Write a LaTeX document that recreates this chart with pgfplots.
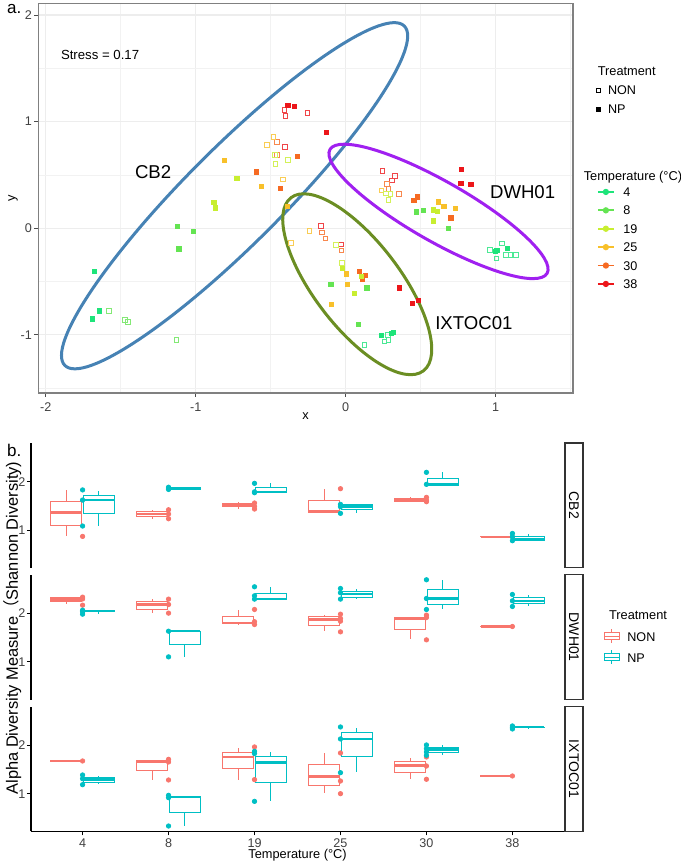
\documentclass[border=0pt]{standalone}
\usepackage{pgfplots}
\pgfplotsset{compat=1.18}
\usepgfplotslibrary{statistics}
\usepackage{fontspec}
\setmainfont{Liberation Sans}
\newfontfamily\cjk{Noto Sans CJK SC}
\definecolor{tA}{RGB}{30,228,122}
\definecolor{tB}{RGB}{100,228,82}
\definecolor{tC}{RGB}{200,238,48}
\definecolor{tD}{RGB}{248,192,42}
\definecolor{tE}{RGB}{246,106,34}
\definecolor{tF}{RGB}{236,22,26}
\definecolor{cbcol}{RGB}{70,130,180}
\definecolor{dwcol}{RGB}{160,32,240}
\definecolor{ixcol}{RGB}{107,142,35}
\definecolor{nonc}{RGB}{248,118,109}
\definecolor{npc}{RGB}{0,191,196}
\newcommand{\fs}[1]{\fontsize{#1}{#1}\selectfont}
\newcommand{\bx}[7]{\addplot[boxplot prepared={draw direction=y, draw position=#1, lower whisker=#2, lower quartile=#3, median=#4, upper quartile=#5, upper whisker=#6, box extend=0.36, whisker extend=0}, draw=#7, fill=white, line width=0.5pt] coordinates {};}
\pgfplotsset{
  boxplot/draw direction=y,
  boxplot/every median/.style={line width=1.2pt},
  facet/.style={at={(15.5pt,#1)}, anchor=south west, scale only axis, width=266.5pt, height=62.4pt,
    xmin=-0.6, xmax=5.6, ymin=0.22, ymax=2.80, ytick={1,2}, yticklabels={1,2},
    axis y line*=left, tick align=outside, major tick length=2pt,
    tick style={black, line width=0.45pt}, axis line style={black, line width=0.55pt, -},
    tick label style={font=\fs{6.3}, text=black!75},
    yticklabel style={inner sep=0.6pt},
    xticklabel style={yshift=2pt},
    /pgf/number format/assume math mode=true},
  pts/.style={only marks, mark=*, mark size=1.1pt},
  sqf/.style={only marks, mark=square*, mark size=1.05pt, color=#1},
  sqo/.style={only marks, mark=square, mark size=1.15pt, mark options={line width=0.45pt}, color=#1!80!white},
}
\begin{document}
\begin{tikzpicture}
\useasboundingbox (0pt,0pt) rectangle (340pt,433pt);
% ---------------- panel a ----------------
\begin{axis}[
  at={(19.15pt,236.5pt)}, anchor=south west, scale only axis,
  width=267.35pt, height=194.85pt,
  xmin=-2.05, xmax=1.516, ymin=-1.545, ymax=2.11,
  xtick={-2,-1,0,1}, ytick={-1,0,1,2},
  minor xtick={-1.5,-0.5,0.5,1.5}, minor ytick={-1.5,-0.5,0.5,1.5},
  grid=both,
  major grid style={gray!14, line width=0.55pt},
  minor grid style={gray!10, line width=0.3pt},
  axis line style={gray, line width=0.55pt},
  tick align=outside, major tick length=2pt, minor tick length=0pt,
  tick style={gray!60!black, line width=0.4pt}, tick pos=left,
  tick label style={font=\fs{6.3}, text=black!75},
  yticklabel style={inner sep=1pt},
  xticklabel style={yshift=0.8pt},
  /pgf/number format/assume math mode=true,
  xlabel={x}, ylabel={y},
  xlabel style={at={(axis description cs:0.5,0)}, anchor=center, yshift=-11.5pt, font=\fs{6.4}},
  ylabel style={at={(axis description cs:0,0.5)}, anchor=center, yshift=12.6pt, font=\fs{6.4}},
]
\addplot[sqo=tF] coordinates {(-0.409,1.11) (-0.402,1.053) (-0.255,1.079) (-0.406,0.765) (-0.164,0.022) (-0.031,-0.15) (0.246,0.54) (0.328,0.49) (0.307,0.45)};
\addplot[sqo=tE] coordinates {(-0.46,0.807) (-0.46,0.69) (-0.157,-0.04) (-0.135,-0.094) (-0.029,-0.21) (0.275,0.416) (0.284,0.369) (0.357,0.322)};
\addplot[sqo=tD] coordinates {(-0.482,0.854) (-0.526,0.781) (-0.417,0.459) (-0.243,-0.025) (-0.366,-0.135) (0.238,0.356)};
\addplot[sqo=tC] coordinates {(-0.469,0.603) (-0.386,0.64) (-0.47,0.69) (-0.066,-0.154) (-0.024,-0.328) (0.27,0.328) (0.299,0.322) (0.284,0.266)};
\addplot[sqo=tB] coordinates {(-1.58,-0.775) (-1.472,-0.86) (-1.452,-0.88) (-1.13,-1.047)};
\addplot[sqo=tA] coordinates {(0.281,-1.003) (0.258,-1.06) (0.284,-1.047) (0.125,-1.097) (0.962,-0.203) (1.043,-0.144) (1.006,-0.284) (1.07,-0.253) (1.10,-0.253) (1.136,-0.253)};
\addplot[sqf=tF] coordinates {(-0.386,1.15) (-0.344,1.141) (-0.128,0.897) (0.358,-0.56) (0.445,-0.704) (0.483,-0.673) (0.771,0.55) (0.768,0.42) (0.835,0.413)};
\addplot[sqf=tE] coordinates {(-0.32,0.675) (-0.597,0.528) (-0.435,0.375) (0.091,-0.407) (0.131,-0.444) (0.109,-0.478) (0.455,0.26) (0.478,0.294) (0.701,0.097)};
\addplot[sqf=tD] coordinates {(-0.81,0.634) (-0.564,0.39) (-0.389,0.203) (0.007,-0.429) (0.011,-0.525) (-0.095,-0.716) (0.617,0.247) (0.655,0.206) (0.73,0.188)};
\addplot[sqf=tC] coordinates {(-0.726,0.469) (-0.879,0.244) (-0.871,0.19) (-0.022,-0.379) (0.056,-0.61) (0.105,-0.454) (0.583,0.172) (0.614,0.156) (0.583,0.069)};
\addplot[sqf=tB] coordinates {(-1.125,0.016) (-1.014,-0.031) (-1.113,-0.194) (-0.099,-0.525) (0.141,-0.56) (0.083,-0.904) (0.47,0.153) (0.516,0.166) (0.687,0.0)};
\addplot[sqf=tA] coordinates {(-1.678,-0.406) (-1.64,-0.775) (-1.69,-0.85) (0.236,-1.004) (0.307,-0.985) (0.316,-0.975) (1.0,-0.219) (1.009,-0.21) (1.078,-0.19)};
\draw[cbcol, line width=1.5pt, rotate around={45:(axis cs:-0.741,0.305)}] (axis cs:-0.741,0.305) ellipse [x radius=120pt, y radius=24pt];
\draw[dwcol, line width=1.5pt, rotate around={-29.7:(axis cs:0.619,0.158)}] (axis cs:0.619,0.158) ellipse [x radius=62.5pt, y radius=15pt];
\draw[ixcol, line width=1.5pt, rotate around={-52.6:(axis cs:0.077,-0.525)}] (axis cs:0.077,-0.525) ellipse [x radius=54.5pt, y radius=21.5pt];
\node[font=\fs{9.3}] at (axis cs:-1.284,0.531) {CB2};
\node[font=\fs{9.3}] at (axis cs:1.18,0.343) {DWH01};
\node[font=\fs{9.3}] at (axis cs:0.855,-0.886) {IXTOC01};
\node[font=\fs{6.6}] at (axis cs:-1.638,1.626) {Stress = 0.17};
\end{axis}
% legends of panel a
\begin{axis}[at={(0pt,0pt)}, anchor=south west, scale only axis, width=340pt, height=433pt,
  xmin=0, xmax=1, ymin=0, ymax=1, hide axis,
  legend style={at={(0.8765,0.9025)}, anchor=north west, draw=none, fill=none, inner sep=0pt, outer sep=0pt,
    row sep=3.9pt, column sep=3.5pt, font=\fs{6.3}, nodes={inner sep=0.5pt, text height=4.6pt, text depth=0pt}},
  legend cell align=left,
  legend image code/.code={\draw[mark repeat=2,mark phase=2,#1] plot coordinates {(0pt,0pt) (3pt,0pt) (6pt,0pt)};}]
\addlegendimage{only marks, mark=square, mark size=1pt, black, mark options={line width=0.4pt}}
\addlegendentry{NON}
\addlegendimage{only marks, mark=square*, mark size=1pt, black}
\addlegendentry{NP}
\end{axis}
\begin{axis}[at={(0pt,0pt)}, anchor=south west, scale only axis, width=340pt, height=433pt,
  xmin=0, xmax=1, ymin=0, ymax=1, hide axis,
  legend style={at={(0.8779,0.7848)}, anchor=north west, draw=none, fill=none, inner sep=0pt, outer sep=0pt,
    row sep=3.6pt, column sep=3.8pt, font=\fs{6.3}, nodes={inner sep=0.5pt, text height=4.6pt, text depth=0pt}},
  legend cell align=left,
  legend image code/.code={\draw[mark repeat=2,mark phase=2,#1] plot coordinates {(0pt,0pt) (4pt,0pt) (8pt,0pt)};}]
\addlegendimage{tA, mark=*, mark size=1.1pt, line width=0.9pt}\addlegendentry{4}
\addlegendimage{tB, mark=*, mark size=1.1pt, line width=0.9pt}\addlegendentry{8}
\addlegendimage{tC, mark=*, mark size=1.1pt, line width=0.9pt}\addlegendentry{19}
\addlegendimage{tD, mark=*, mark size=1.1pt, line width=0.9pt}\addlegendentry{25}
\addlegendimage{tE, mark=*, mark size=1.1pt, line width=0.9pt}\addlegendentry{30}
\addlegendimage{tF, mark=*, mark size=1.1pt, line width=0.9pt}\addlegendentry{38}
\end{axis}
\node[anchor=west, font=\fs{6.4}] at (295.35pt,397.5pt) {Treatment};
\node[anchor=west, font=\fs{6.4}] at (288.35pt,344.5pt) {Temperature (°C)};
\node[anchor=west, font=\fs{8.5}] at (0pt,428.5pt) {a.};
\node[anchor=west, font=\fs{8.5}] at (0pt,208pt) {b.};
% ---------------- panel b: CB2 ----------------
\begin{axis}[facet=149.1pt, axis x line=none, xtick=\empty]
\bx{-0.1875}{0.876}{1.103}{1.359}{1.60}{1.828}{nonc}
\bx{0.1875}{1.083}{1.345}{1.621}{1.717}{1.814}{npc}
\bx{0.8125}{1.234}{1.276}{1.331}{1.393}{1.42}{nonc}
\bx{1.1875}{1.84}{1.848}{1.862}{1.876}{1.886}{npc}
\bx{1.8125}{1.434}{1.483}{1.517}{1.559}{1.572}{nonc}
\bx{2.1875}{1.772}{1.779}{1.793}{1.883}{1.966}{npc}
\bx{2.8125}{1.372}{1.372}{1.386}{1.614}{1.848}{nonc}
\bx{3.1875}{1.345}{1.428}{1.483}{1.531}{1.545}{npc}
\bx{3.8125}{1.586}{1.60}{1.628}{1.648}{1.676}{nonc}
\bx{4.1875}{1.931}{1.931}{1.945}{2.069}{2.193}{npc}
\bx{4.8125}{0.855}{0.858}{0.862}{0.866}{0.87}{nonc}
\bx{5.1875}{0.78}{0.793}{0.821}{0.869}{0.917}{npc}
\addplot[pts, nonc] coordinates {(0,0.869) (1,1.42) (1,1.234) (1,1.33) (2,1.559) (2,1.49) (2,1.434) (3,1.855) (4,1.676) (4,1.62) (4,1.586) (5,0.862)};
\addplot[pts, npc] coordinates {(0,1.83) (0,1.62) (0,1.083) (1,1.886) (1,1.84) (1,1.86) (2,1.966) (2,1.79) (2,1.772) (3,1.531) (3,1.483) (3,1.345) (4,2.193) (4,1.945) (5,0.93) (5,0.86) (5,0.78)};
\end{axis}
\draw[black!80, line width=0.6pt, fill=white] (282.5pt,149.1pt) rectangle (291.5pt,211.5pt);
\node[rotate=-90, font=\fs{7}] at (287pt,180.3pt) {CB2};
% ---------------- DWH01 ----------------
\begin{axis}[facet=83.2pt, axis x line=none, xtick=\empty]
\bx{-0.1875}{2.186}{2.241}{2.29}{2.338}{2.345}{nonc}
\bx{0.1875}{1.986}{2.034}{2.048}{2.062}{2.069}{npc}
\bx{0.8125}{2.007}{2.09}{2.186}{2.241}{2.297}{nonc}
\bx{1.1875}{1.103}{1.366}{1.634}{1.634}{1.634}{npc}
\bx{1.8125}{1.772}{1.793}{1.807}{1.945}{2.069}{nonc}
\bx{2.1875}{2.283}{2.283}{2.297}{2.421}{2.552}{npc}
\bx{2.8125}{1.634}{1.745}{1.876}{1.931}{1.966}{nonc}
\bx{3.1875}{2.297}{2.338}{2.4}{2.455}{2.503}{npc}
\bx{3.8125}{1.469}{1.676}{1.897}{1.917}{1.93}{nonc}
\bx{4.1875}{2.083}{2.186}{2.31}{2.503}{2.69}{npc}
\bx{4.8125}{1.724}{1.728}{1.731}{1.734}{1.738}{nonc}
\bx{5.1875}{2.159}{2.2}{2.262}{2.331}{2.379}{npc}
\addplot[pts, nonc] coordinates {(0,2.338) (0,2.172) (0,2.3) (1,2.297) (1,2.186) (1,2.007) (2,2.083) (2,1.83) (2,1.772) (3,1.986) (3,1.897) (3,1.841) (3,1.62) (4,1.966) (4,1.917) (4,1.455) (5,1.731)};
\addplot[pts, npc] coordinates {(0,2.069) (0,2.034) (0,1.986) (1,1.634) (1,1.103) (2,2.552) (2,2.366) (2,2.297) (3,2.517) (3,2.428) (3,2.297) (4,2.697) (4,2.31) (4,2.083) (5,2.393) (5,2.262) (5,2.145)};
\end{axis}
\draw[black!80, line width=0.6pt, fill=white] (282.5pt,83.2pt) rectangle (291.5pt,145.6pt);
\node[rotate=-90, font=\fs{7}] at (287pt,114.4pt) {DWH01};
% ---------------- IXTOC01 ----------------
\begin{axis}[facet=17.3pt, axis x line*=bottom, xtick={0,1,2,3,4,5}, xticklabels={4,8,19,25,30,38},
  xlabel={Temperature (°C)},
  xlabel style={at={(axis description cs:0.5,0)}, anchor=center, yshift=-11.9pt, font=\fs{6.4}}]
\bx{-0.1875}{1.672}{1.674}{1.676}{1.678}{1.68}{nonc}
\bx{0.1875}{1.193}{1.241}{1.29}{1.338}{1.372}{npc}
\bx{0.8125}{1.276}{1.469}{1.662}{1.676}{1.69}{nonc}
\bx{1.1875}{0.324}{0.621}{0.931}{0.945}{0.955}{npc}
\bx{1.8125}{1.276}{1.51}{1.752}{1.848}{1.952}{nonc}
\bx{2.1875}{0.841}{1.234}{1.641}{1.759}{1.862}{npc}
\bx{2.8125}{1.014}{1.179}{1.359}{1.593}{1.841}{nonc}
\bx{3.1875}{1.448}{1.772}{2.131}{2.255}{2.366}{npc}
\bx{3.8125}{1.303}{1.428}{1.579}{1.655}{1.745}{nonc}
\bx{4.1875}{1.8}{1.841}{1.91}{1.959}{2.0}{npc}
\bx{4.8125}{1.362}{1.364}{1.366}{1.368}{1.37}{nonc}
\bx{5.1875}{2.36}{2.366}{2.372}{2.378}{2.385}{npc}
\addplot[pts, nonc] coordinates {(0,1.676) (1,1.71) (1,1.655) (1,1.283) (2,1.966) (2,1.29) (3,1.841) (3,1.262) (3,1.0) (4,1.759) (4,1.572) (4,1.297) (5,1.366)};
\addplot[pts, npc] coordinates {(0,1.386) (0,1.31) (0,1.186) (1,0.966) (1,0.917) (1,0.331) (2,1.876) (2,1.83) (2,0.841) (3,2.379) (3,2.131) (3,1.434) (4,2.007) (4,1.931) (4,1.862) (4,1.793) (5,2.4) (5,2.372) (5,2.338)};
\end{axis}
\draw[black!80, line width=0.6pt, fill=white] (282.5pt,17.3pt) rectangle (291.5pt,79.7pt);
\node[rotate=-90, font=\fs{7}] at (287pt,48.5pt) {IXTOC01};
% legend panel b
\begin{axis}[at={(0pt,0pt)}, anchor=south west, scale only axis, width=340pt, height=433pt,
  xmin=0, xmax=1, ymin=0, ymax=1, hide axis,
  legend style={at={(0.8882,0.2737)}, anchor=north west, draw=none, fill=none, inner sep=0pt, outer sep=0pt,
    row sep=3pt, column sep=3.2pt, font=\fs{6.3}, nodes={inner sep=0.5pt, text height=4.6pt, text depth=0pt}},
  legend cell align=left,
  legend image code/.code={\draw[#1, fill=white] (0pt,-1.75pt) rectangle (7.5pt,1.75pt); \draw[#1] (0pt,0pt) -- (7.5pt,0pt); \draw[#1] (3.75pt,1.75pt) -- (3.75pt,3.5pt); \draw[#1] (3.75pt,-1.75pt) -- (3.75pt,-3.5pt);}]
\addlegendimage{draw=nonc, line width=0.5pt}\addlegendentry{NON}
\addlegendimage{draw=npc, line width=0.5pt}\addlegendentry{NP}
\end{axis}
\node[anchor=west, font=\fs{6.4}] at (301pt,125.5pt) {Treatment};
\node[rotate=90, font=\fs{8.2}] at (6.3pt,119pt) {Alpha Diversity Measure{\cjk （}Shannon Diversity)};
\end{tikzpicture}
\end{document}
